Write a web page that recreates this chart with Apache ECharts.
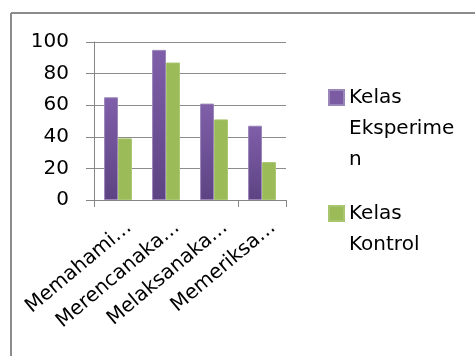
<!DOCTYPE html>
<html>
<head>
<meta charset="utf-8">
<script src="https://cdn.jsdelivr.net/npm/echarts@6/dist/echarts.min.js"></script>
<style>html,body{margin:0;padding:0;background:#fff;}#c{width:475px;height:356px;}</style>
</head>
<body>
<div id="c"></div>
<script>
const categories = ['Memahami…', 'Merencanaka…', 'Melaksanaka…', 'Memeriksa…'];
const eksperimen = [65, 95, 61, 47];
const kontrol = [39, 87, 51, 24];
const yTicks = { min: 0, max: 100, interval: 20 };
const seriesNames = ['Kelas Eksperimen', 'Kelas Kontrol'];
const legendLabels = ['\n\nKelas\nEksperime\nn', '\nKelas\nKontrol'];

const FONT = 'DejaVu Sans';
const chart = echarts.init(document.getElementById('c'), null, { renderer: 'canvas' });
chart.setOption({
  animation: false,
  textStyle: { fontFamily: FONT },
  graphic: [
    { type: 'line', shape: { x1: 11, y1: 13, x2: 475, y2: 13 }, style: { stroke: '#8c8c8c', lineWidth: 2 } },
    { type: 'line', shape: { x1: 11, y1: 13, x2: 11, y2: 356 }, style: { stroke: '#8c8c8c', lineWidth: 2 } }
  ],
  grid: [
    { left: 94, top: 42, width: 192, height: 158, containLabel: false },
    { left: 105, top: 42, width: 192, height: 158, containLabel: false }
  ],
  legend: [
    {
      orient: 'vertical', left: 323, top: 15, itemWidth: 15, itemHeight: 15, itemGap: 0,
      icon: 'rect', selectedMode: false,
      formatter: () => legendLabels[0],
      textStyle: { fontFamily: FONT, fontSize: 20, color: '#000', lineHeight: 31 },
      data: [{ name: seriesNames[0], itemStyle: { color: '#7b5ca3' } }]
    },
    {
      orient: 'vertical', left: 323, top: 162, itemWidth: 15, itemHeight: 15, itemGap: 0,
      icon: 'rect', selectedMode: false,
      formatter: () => legendLabels[1],
      textStyle: { fontFamily: FONT, fontSize: 20, color: '#000', lineHeight: 31 },
      data: [{ name: seriesNames[1], itemStyle: { color: '#9bbb59' } }]
    }
  ],
  xAxis: [
    {
      type: 'category', data: categories, boundaryGap: true, gridIndex: 0,
      axisLine: { lineStyle: { color: '#868686', width: 1 } },
      axisTick: { show: true, alignWithLabel: false, length: 7, lineStyle: { color: '#868686' } },
      axisLabel: { show: false }
    },
    {
      type: 'category', data: categories, boundaryGap: true, gridIndex: 1,
      axisLine: { show: false }, axisTick: { show: false }, splitLine: { show: false },
      axisLabel: { rotate: 40, interval: 0, fontFamily: FONT, fontSize: 20, color: '#000', margin: 25 }
    }
  ],
  yAxis: [
    {
      type: 'value', min: yTicks.min, max: yTicks.max, interval: yTicks.interval, gridIndex: 0,
      axisLine: { show: true, lineStyle: { color: '#868686', width: 1 } },
      axisTick: { show: true, length: 8, lineStyle: { color: '#868686' } },
      axisLabel: { fontFamily: FONT, fontSize: 20, color: '#000', margin: 25 },
      splitLine: { show: true, lineStyle: { color: '#8c8c8c', width: 1 } }
    },
    {
      type: 'value', min: yTicks.min, max: yTicks.max, interval: yTicks.interval, gridIndex: 1,
      show: false
    }
  ],
  series: [
    {
      name: seriesNames[0], type: 'bar', data: eksperimen, barGap: '0%', barCategoryGap: '42%',
      xAxisIndex: 0, yAxisIndex: 0,
      itemStyle: {
        color: new echarts.graphic.LinearGradient(0, 0, 0, 1, [
          { offset: 0, color: '#7f5fa9' }, { offset: 1, color: '#5d4383' }
        ]),
        borderColor: '#9a86b8', borderWidth: 1
      }
    },
    {
      name: seriesNames[1], type: 'bar', data: kontrol, barGap: '0%', barCategoryGap: '42%',
      xAxisIndex: 0, yAxisIndex: 0,
      itemStyle: { color: '#9bbb59', borderColor: '#a9c56f', borderWidth: 1 }
    }
  ]
});
</script>
</body>
</html>
